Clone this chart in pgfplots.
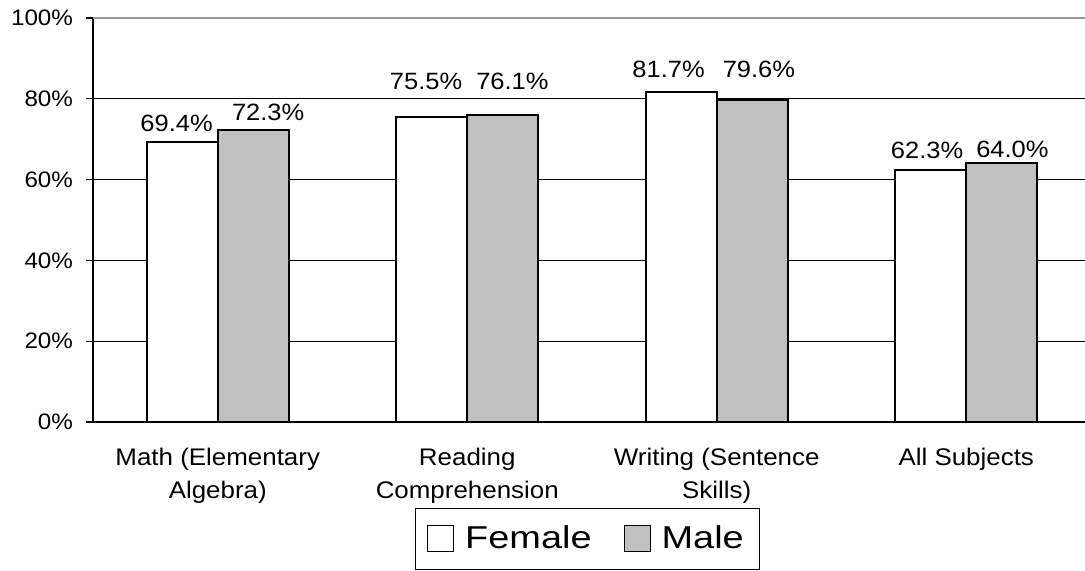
\documentclass[border=0pt]{standalone}
\usepackage{pgfplots}
\pgfplotsset{compat=1.18}
\usepackage{fontspec}
\setmainfont[FakeStretch=1.08]{Liberation Sans}
\newfontfamily\legfont[FakeStretch=1.2]{Liberation Sans}
\begin{document}
\begin{tikzpicture}
\useasboundingbox (-46.5pt,-74.5pt) rectangle (496pt,211pt);
\begin{axis}[
  at={(0,0)}, anchor=south west,
  scale only axis,
  width=499pt, height=202pt,
  xmin=-0.5, xmax=3.5,
  ymin=0, ymax=100,
  axis x line*=bottom, axis y line*=left,
  axis line style={black, line width=0.7pt},
  xtick={0,1,2,3},
  xticklabels={Math (Elementary\\Algebra), Reading\\Comprehension, Writing (Sentence\\Skills), All Subjects},
  x tick label style={align=center, font=\fontsize{12}{16.5}\selectfont, text depth=0pt, yshift=-6pt},
  x tick style={draw=none},
  extra x ticks={-0.5,0.5,1.5,2.5},
  extra x tick labels={},
  extra x tick style={tick style={draw=black, line width=0.6pt}, major tick length=3.5pt, tick align=outside},
  ytick={0,20,40,60,80},
  yticklabels={\textnormal{0\%},\textnormal{20\%},\textnormal{40\%},\textnormal{60\%},\textnormal{80\%}},
  extra y ticks={100},
  extra y tick labels={\textnormal{100\%}},
  extra y tick style={grid style={gray!80, line width=0.9pt}},
  y tick label style={font=\fontsize{11.2}{13}\selectfont, xshift=-3pt},
  ytick style={black, line width=0.6pt},
  tick align=outside, major tick length=3.5pt,
  ymajorgrids,
  grid style={black, line width=0.5pt},
  legend style={at={(0.4955,-0.2896)}, anchor=center, legend columns=2,
    font=\legfont\fontsize{15.8}{18}\selectfont, draw=black, line width=0.5pt,
    inner xsep=6pt, inner ysep=7pt,
    /tikz/every odd column/.append style={column sep=3.5pt},
    /tikz/every even column/.append style={column sep=14pt}},
  legend image code/.code={\draw[#1, draw=black, line width=0.5pt] (0pt,-6.5pt) rectangle (13pt,6.5pt);},
]
\addplot[ybar, bar width=35.5pt, bar shift=-17.75pt, fill=white, draw=black, line width=1pt]
  coordinates {(0,69.4) (1,75.5) (2,81.7) (3,62.3)};
\addplot[ybar, bar width=35.5pt, bar shift=17.75pt, fill={rgb,255:red,192;green,192;blue,192}, draw=black, line width=1pt]
  coordinates {(0,72.3) (1,76.1) (2,79.6) (3,64.0)};
\legend{Female, Male}
% value labels, placed as in the original chart
\addplot[forget plot, only marks, mark=none, point meta=explicit symbolic,
  nodes near coords,
  every node near coord/.style={anchor=base, inner sep=0pt, font=\fontsize{11.8}{13}\selectfont, black}]
  coordinates {
  (-0.165,71.86) [69.4\%]
  (0.202,74.75) [72.3\%]
  (0.835,82.18) [75.5\%]
  (1.181,82.18) [76.1\%]
  (1.807,85.15) [81.7\%]
  (2.169,85.15) [79.6\%]
  (2.843,65.10) [62.3\%]
  (3.185,65.35) [64.0\%]
  };
\end{axis}
\end{tikzpicture}
\end{document}
